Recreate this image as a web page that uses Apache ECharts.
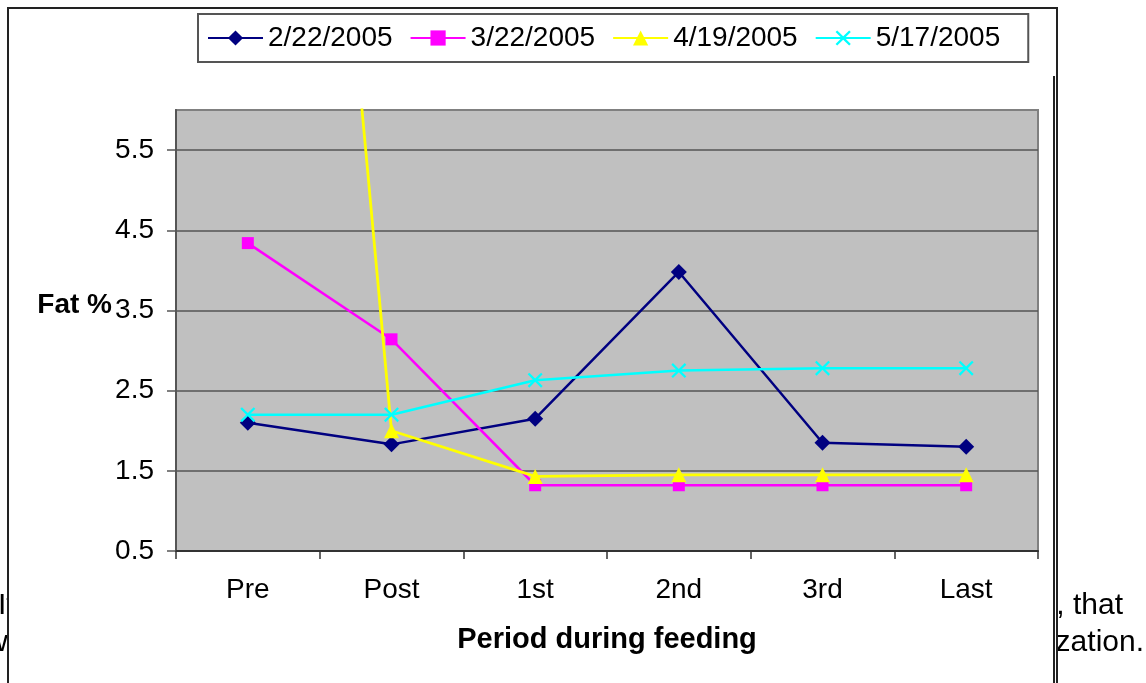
<!DOCTYPE html>
<html><head><meta charset="utf-8">
<script src="https://cdn.jsdelivr.net/npm/echarts@6/dist/echarts.min.js"></script>
<style>html,body{margin:0;padding:0;background:#fff}#c{width:1146px;height:683px}</style>
</head><body><div id="c"></div>
<script>
const categories = ['Pre', 'Post', '1st', '2nd', '3rd', 'Last'];
const seriesNames = ['2/22/2005', '3/22/2005', '4/19/2005', '5/17/2005'];
const s0222 = [2.10, 1.83, 2.15, 3.98, 1.85, 1.80];
const s0322 = [4.34, 3.14, 1.32, 1.32, 1.32, 1.32];
const s0419 = [21.5, 2.00, 1.43, 1.45, 1.45, 1.45];
const s0517 = [2.20, 2.20, 2.63, 2.75, 2.78, 2.78];
const yTicks = [0.5, 1.5, 2.5, 3.5, 4.5, 5.5];
const yMin = 0.5, yMax = 6;
const xTitle = 'Period during feeding';
const yTitle = 'Fat %';
const bgTextLeft = ['It', 'w'];
const bgTextRight = [', that', 'zation.'];

const FONT = '"Liberation Sans", Arial, sans-serif';
const chart = echarts.init(document.getElementById('c'), null, {renderer: 'canvas'});
const xShape = 'path://M0,1.5L1.5,0L7,5.5L12.5,0L14,1.5L8.5,7L14,12.5L12.5,14L7,8.5L1.5,14L0,12.5L5.5,7Z';

function mk(name, data, color, symbol, size, width) {
  return {
    name: name, type: 'line', data: data, symbol: symbol, symbolSize: size,
    showAllSymbol: true, clip: true, z: 3,
    lineStyle: {color: color, width: width},
    itemStyle: {color: color},
    emphasis: {disabled: true}
  };
}

chart.setOption({
  animation: false,
  backgroundColor: '#ffffff',
  textStyle: {fontFamily: FONT},
  graphic: [
    {type: 'text', x: -2, y: 606, z: -20, style: {text: bgTextLeft[0], font: '30px ' + FONT, fill: '#000', verticalAlign: 'middle'}},
    {type: 'text', x: -14, y: 643, z: -20, style: {text: bgTextLeft[1], font: '30px ' + FONT, fill: '#000', verticalAlign: 'middle'}},
    {type: 'text', x: 1123, y: 606, z: -20, style: {text: bgTextRight[0], font: '30px ' + FONT, fill: '#000', align: 'right', verticalAlign: 'middle'}},
    {type: 'text', x: 1144, y: 643, z: -20, style: {text: bgTextRight[1], font: '30px ' + FONT, fill: '#000', align: 'right', verticalAlign: 'middle'}},
    {type: 'rect', z: -10, shape: {x: 8, y: 8, width: 1049, height: 720}, style: {fill: '#ffffff', stroke: '#222222', lineWidth: 2}},
    {type: 'line', z: -9, shape: {x1: 1054, y1: 76, x2: 1054, y2: 690}, style: {stroke: '#222222', lineWidth: 2}},
    {type: 'text', x: 112, y: 305, z: 5, style: {text: yTitle, font: 'bold 28px ' + FONT, fill: '#000', align: 'right', verticalAlign: 'middle'}}
  ],
  legend: {
    left: 198, top: 14,
    padding: [10, 28, 10, 9],
    itemGap: 17, itemWidth: 55, itemHeight: 19,
    borderColor: '#555555', borderWidth: 2,
    backgroundColor: '#ffffff',
    textStyle: {fontSize: 28, color: '#000', fontFamily: FONT},
    data: seriesNames
  },
  grid: {
    left: 176, right: 108, top: 110, bottom: 132,
    show: true, backgroundColor: '#C0C0C0', borderColor: '#808080', borderWidth: 2
  },
  xAxis: {
    type: 'category', data: categories, boundaryGap: true,
    name: xTitle, nameLocation: 'middle', nameGap: 74,
    nameTextStyle: {fontSize: 29, fontWeight: 'bold', color: '#000', fontFamily: FONT},
    axisLine: {show: true, lineStyle: {color: '#333333', width: 2}},
    axisTick: {show: true, length: 8, inside: false, lineStyle: {color: '#333333', width: 1.5}},
    axisLabel: {fontSize: 28, color: '#000', margin: 25, fontFamily: FONT},
    splitLine: {show: false}
  },
  yAxis: {
    type: 'value', min: yMin, max: yMax, interval: 0.5,
    axisLine: {show: true, lineStyle: {color: '#555555', width: 2}},
    axisTick: {show: true, length: 9, inside: false, customValues: yTicks, lineStyle: {color: '#555555', width: 1.5}},
    axisLabel: {fontSize: 28, color: '#000', margin: 22, customValues: yTicks, fontFamily: FONT},
    splitLine: {show: true, lineStyle: {color: '#555555', width: 1.5}}
  },
  series: [
    mk(seriesNames[0], s0222, '#000080', 'diamond', 16, 2.5),
    mk(seriesNames[1], s0322, '#FF00FF', 'rect', 12, 2.5),
    mk(seriesNames[2], s0419, '#FFFF00', 'triangle', 15, 2.8),
    mk(seriesNames[3], s0517, '#00FFFF', xShape, 15, 2.5)
  ]
});
</script></body></html>
